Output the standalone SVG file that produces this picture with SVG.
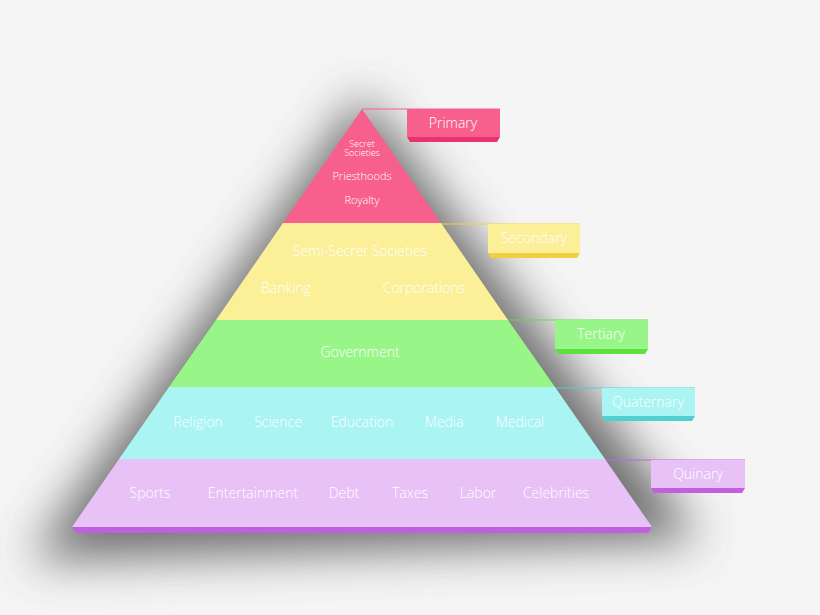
<svg xmlns="http://www.w3.org/2000/svg" width="820" height="615" viewBox="0 0 820 615">
<defs>
<filter id="sh" x="-30%" y="-30%" width="160%" height="160%"><feGaussianBlur stdDeviation="24"/></filter>
</defs>
<style>
text{font-family:"Open Sans","DejaVu Sans",sans-serif;fill:#fff;text-anchor:middle;font-size:14px;font-weight:300}
text.s{font-size:9px}
text.m{font-size:11px}
.l{fill:none;stroke-width:1}
</style>
<rect width="820" height="615" fill="#f5f5f5"/>
<polygon points="362,95 700,540 30,560" fill="#555" filter="url(#sh)" opacity="0.85"/>
<g id="connectors">
<line class="l" x1="362" y1="109" x2="500" y2="109" stroke="#f7608c"/>
<line class="l" x1="441" y1="224" x2="580" y2="224" stroke="#f0d040"/>
<line class="l" x1="508" y1="320" x2="648" y2="320" stroke="#5ee040"/>
<line class="l" x1="555" y1="388" x2="695" y2="388" stroke="#50d0d0"/>
<line class="l" x1="605" y1="460" x2="745" y2="460" stroke="#c060e0"/>
</g>
<g id="primary"><polygon points="362,109 441,223 283,223" fill="#f7608c"/>
<text class="s" x="362" y="147">Secret</text><text class="s" x="362" y="156">Societies</text>
<text class="m" x="362" y="180">Priesthoods</text><text class="m" x="362" y="204">Royalty</text></g>
<g id="secondary"><polygon points="283,223 441,223 508,320 216,320" fill="#fbef98"/>
<text x="360" y="256">Semi-Secret Societies</text><text x="286" y="293">Banking</text><text x="424" y="293">Corporations</text></g>
<g id="tertiary"><polygon points="216,320 508,320 555,387 169,387" fill="#98f588"/>
<text x="360" y="357">Government</text></g>
<g id="quaternary"><polygon points="169,387 555,387 605,459 119,459" fill="#aaf4f4"/>
<text x="198" y="427">Religion</text><text x="278" y="427">Science</text><text x="362" y="427">Education</text><text x="444" y="427">Media</text><text x="520" y="427">Medical</text></g>
<g id="quinary"><polygon points="119,459 605,459 652,527 72,527" fill="#e8c2f6"/>
<polygon points="72,527 652,527 648,533 76,533" fill="#c060e0"/>
<text x="150" y="498">Sports</text><text x="253" y="498">Entertainment</text><text x="344" y="498">Debt</text><text x="410" y="498">Taxes</text><text x="478" y="498">Labor</text><text x="556" y="498">Celebrities</text></g>
<g id="label-primary"><rect x="407" y="109" width="93" height="28" fill="#f7608c"/><polygon points="407,137 500,137 497,142 410,142" fill="#e8336e"/><text x="453" y="128">Primary</text></g>
<g id="label-secondary"><rect x="488" y="224" width="92" height="29" fill="#fbef98"/><polygon points="488,253 580,253 577,258 491,258" fill="#f0d040"/><text x="534" y="243">Secondary</text></g>
<g id="label-tertiary"><rect x="555" y="320" width="93" height="29" fill="#98f588"/><polygon points="555,349 648,349 645,354 558,354" fill="#5ee040"/><text x="601" y="339">Tertiary</text></g>
<g id="label-quaternary"><rect x="602" y="388" width="93" height="28" fill="#aaf4f4"/><polygon points="602,416 695,416 692,421 605,421" fill="#50d0d0"/><text x="648" y="407">Quaternary</text></g>
<g id="label-quinary"><rect x="651" y="460" width="94" height="28" fill="#e8c2f6"/><polygon points="651,488 745,488 742,493 654,493" fill="#c060e0"/><text x="698" y="479">Quinary</text></g>
</svg>
